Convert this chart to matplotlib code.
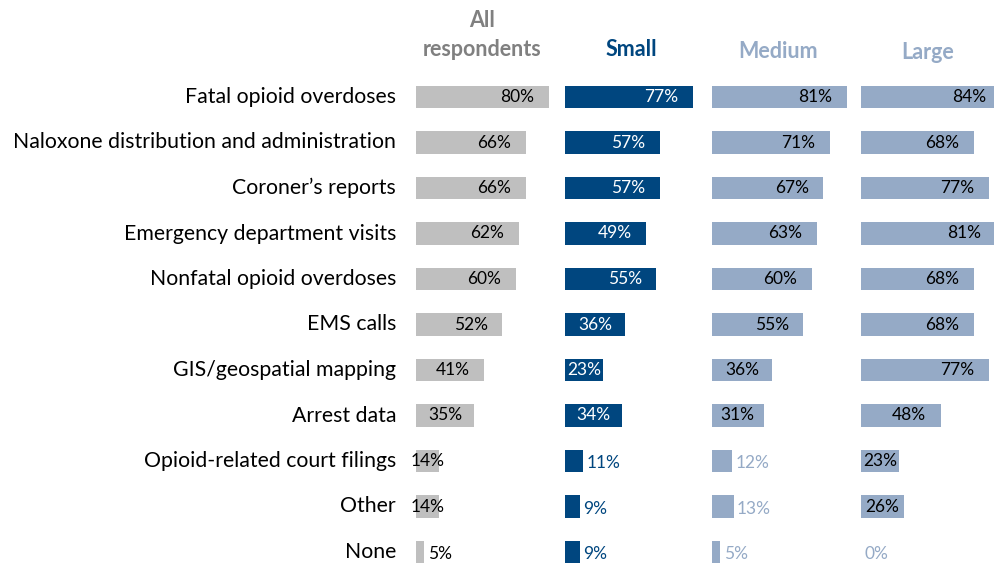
import matplotlib
matplotlib.use("Agg")
import matplotlib.pyplot as plt

plt.rcParams['font.family'] = ['Lato', 'DejaVu Sans']

categories = [
    "Fatal opioid overdoses",
    "Naloxone distribution and administration",
    "Coroner\u2019s reports",
    "Emergency department visits",
    "Nonfatal opioid overdoses",
    "EMS calls",
    "GIS/geospatial mapping",
    "Arrest data",
    "Opioid-related court filings",
    "Other",
    "None",
]
all_resp = [80, 66, 66, 62, 60, 52, 41, 35, 14, 14, 5]
small = [77, 57, 57, 49, 55, 36, 23, 34, 11, 9, 9]
medium = [81, 71, 67, 63, 60, 55, 36, 31, 12, 13, 5]
large = [84, 68, 77, 81, 68, 68, 77, 48, 23, 26, 0]

panel_titles = ["All\nrespondents", "Small", "Medium", "Large"]
panel_values = [all_resp, small, medium, large]

GRAY = "#BFBFBF"
DARK = "#00467F"
LIGHT = "#95AAC6"
bar_colors = [GRAY, DARK, LIGHT, LIGHT]
title_colors = ["#808080", DARK, LIGHT, LIGHT]
in_colors = ["black", "white", "black", "black"]
out_colors = ["black", DARK, LIGHT, LIGHT]
title_y = [-1.36, -1.04, -0.99, -0.97]

W, H = 995, 563
fig = plt.figure(figsize=(W / 100, H / 100), dpi=100)

lefts = [416, 565, 712, 861]
width = 148
xmax = 89
row_h = 45.5
top = 97 - row_h / 2
n = len(categories)
bottom = top + n * row_h

for k, (vals, title) in enumerate(zip(panel_values, panel_titles)):
    ax = fig.add_axes([lefts[k] / W, (H - bottom) / H, width / W, (bottom - top) / H])
    ax.barh(range(n), vals, height=0.5, color=bar_colors[k], clip_on=False)
    ax.set_xlim(0, xmax)
    ax.set_ylim(n - 0.5, -0.5)
    ax.axis("off")
    for i, v in enumerate(vals):
        if v >= 14:
            ax.text(max(v / 2, v - 19), i, f"{v}%", ha="center", va="center",
                    fontsize=12.5, color=in_colors[k])
        else:
            ax.text(v + 2, i + 0.05, f"{v}%", ha="left", va="center",
                    fontsize=12.5, color=out_colors[k])
    if k == 0:
        for i, c in enumerate(categories):
            ax.text(-12, i, c, ha="right", va="center", fontsize=15.3, color="black")
    ax.text(40, title_y[k], title, ha="center", va="center", fontsize=15.5,
            fontweight="bold", color=title_colors[k], linespacing=1.45)

fig.savefig("out.png", dpi=100)
